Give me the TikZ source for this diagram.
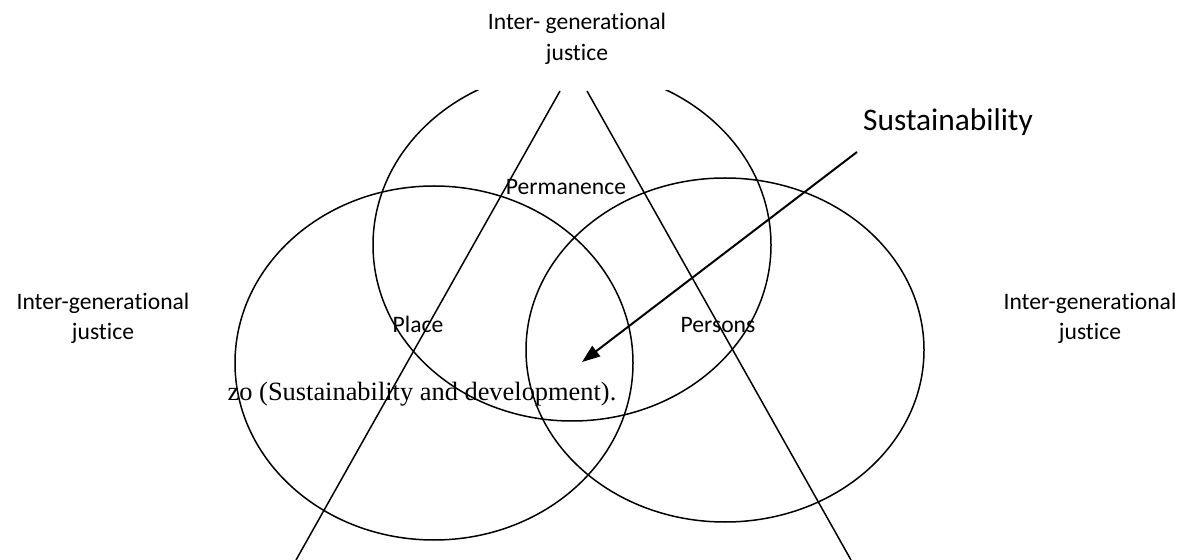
\documentclass[tikz,border=0pt]{standalone}
\usepackage{fontspec}
\setmainfont{Carlito}[Ligatures=NoCommon]
\newfontfamily\serifface{Liberation Serif}
\usetikzlibrary{shapes.geometric,arrows.meta}
\begin{document}
\begin{tikzpicture}[x=0.5pt,y=-0.5pt,
  ring/.style={draw, ellipse, line width=0.75pt, minimum width=199pt, inner sep=0pt},
  lbl/.style={font=\fontsize{11.8}{14}\selectfont, anchor=base, inner sep=0pt},
  biglbl/.style={font=\fontsize{15.7}{19}\selectfont, anchor=base, inner sep=0pt},
  seriflbl/.style={font=\serifface\fontsize{13.2}{16}\selectfont, anchor=base, inner sep=0pt},
  edge/.style={line width=0.75pt},
  pointer/.style={line width=1pt, -{Triangle[length=9pt,width=6.5pt]}}]
\useasboundingbox (0,0) rectangle (1182,560);
% ellipses
\begin{scope}
  \clip (0,91) rectangle (1182,560);
  \node[ring, minimum height=176pt] (topring) at (572,245) {};
\end{scope}
\node[ring, minimum height=177pt] (leftring) at (434,363) {};
\node[ring, minimum height=172pt] (rightring) at (725,350) {};
% triangle lines
\coordinate (lt) at (560,91);
\coordinate (lb) at (296,560);
\coordinate (rt) at (587,91);
\coordinate (rb) at (851,560);
\draw[edge] (lt) -- (lb);
\draw[edge] (rt) -- (rb);
% labels
\node[lbl] (topA) at (577,30) {Inter- generational};
\node[lbl] (topB) at (577,61) {justice};
\node[lbl] (leftA) at (103,310) {Inter-generational};
\node[lbl] (leftB) at (103,340) {justice};
\node[lbl] (rightA) at (1090,310) {Inter-generational};
\node[lbl] (rightB) at (1090,340) {justice};
\node[lbl] (perm) at (566,195) {Permanence};
\node[lbl] (place) at (418,333) {Place};
\node[lbl] (persons) at (718,333) {Persons};
\node[biglbl] (sus) at (948,131) {Sustainability};
\node[seriflbl] (zo) at (422,401) {zo (Sustainability and development).};
% arrow
\coordinate (as) at (857,152);
\coordinate (ae) at (582,362);
\draw[pointer] (as) -- (ae);
\end{tikzpicture}
\end{document}
